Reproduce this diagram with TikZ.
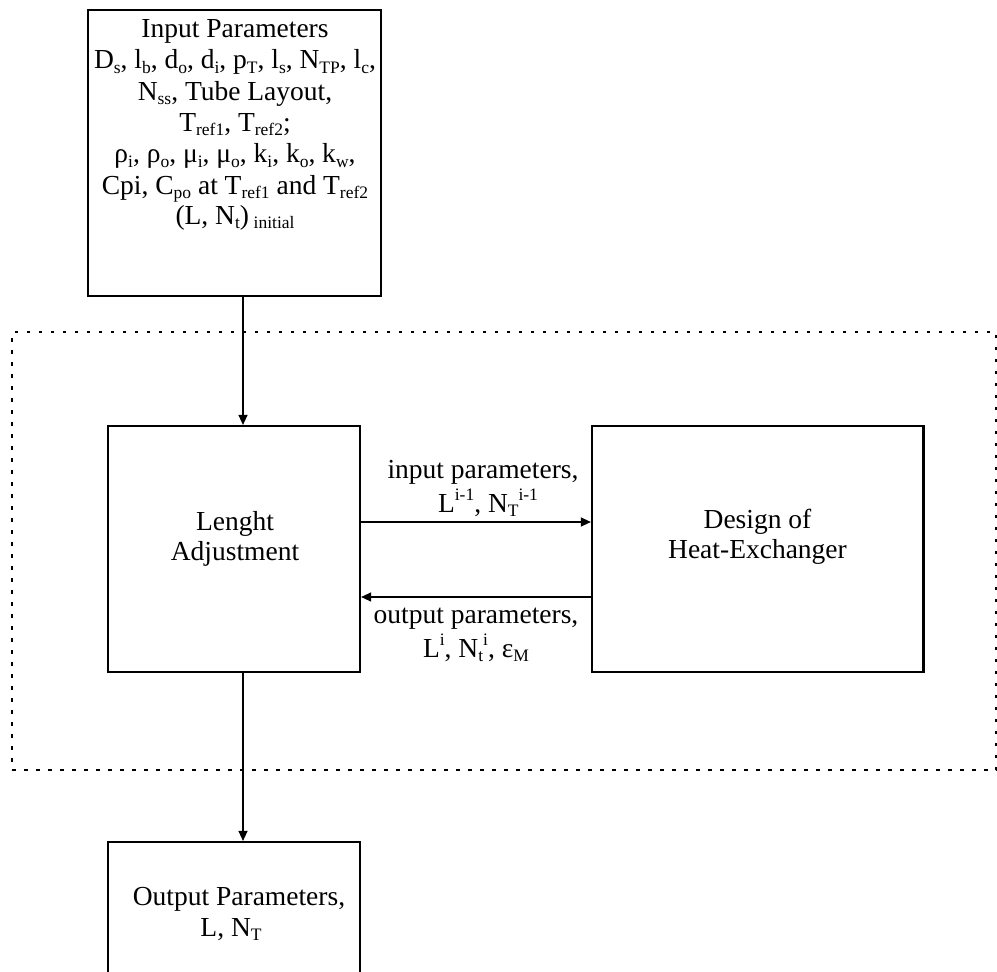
\documentclass[tikz,border=0pt]{standalone}
\usepackage{fontspec}
\setmainfont{Liberation Serif}
\usetikzlibrary{arrows.meta}
\newcommand\sbx[1]{\raisebox{-0.17em}{\fontsize{17.5pt}{18pt}\selectfont #1}}
\newcommand\spx[1]{\raisebox{0.42em}{\fontsize{17.5pt}{18pt}\selectfont #1}}
\begin{document}
\begin{tikzpicture}[x=1pt,y=-1pt,
  box/.style={draw, line width=2.2pt, inner sep=0pt},
  txt/.style={inner sep=0pt, anchor=base, font=\fontsize{27.5pt}{31.5pt}\selectfont},
  arr/.style={line width=1.3pt, -{Triangle[length=10pt,width=9pt]}},
  grpframe/.style={draw, line width=2pt, dash pattern=on 3.5pt off 8.5pt, inner sep=0pt}]
\useasboundingbox (0,0) rectangle (997,972);
\clip (0,0) rectangle (997,972);
% dotted group frame
\node[grpframe, minimum width=984pt, minimum height=438pt] (grp) at (504,551) {};
% boxes
\node[box, minimum width=293pt, minimum height=286pt] (inp) at (234.5,153) {};
\node[box, minimum width=252pt, minimum height=246pt] (len) at (234,549) {};
\node[box, minimum width=331.5pt, minimum height=246pt] (des) at (757.75,549) {};
\node[box, minimum width=252pt, minimum height=200pt] (out) at (234,942) {};
% input text
\node[txt] (i1) at (235,37) {Input Parameters};
\node[txt] (i2) at (235,68.5) {D\sbx{s}, l\sbx{b}, d\sbx{o}, d\sbx{i}, p\sbx{T}, l\sbx{s}, N\sbx{TP}, l\sbx{c},};
\node[txt] (i3) at (235,100) {N\sbx{ss}, Tube Layout,};
\node[txt] (i4) at (235,131) {T\sbx{ref1}, T\sbx{ref2};};
\node[txt] (i5) at (235,162.5) {ρ\sbx{i}, ρ\sbx{o}, μ\sbx{i}, μ\sbx{o}, k\sbx{i}, k\sbx{o}, k\sbx{w},};
\node[txt] (i6) at (235,194) {Cpi, C\sbx{po} at T\sbx{ref1} and T\sbx{ref2}};
\node[txt] (i7) at (235,224) {(L, N\sbx{t})\,\sbx{initial}};
% length text
\node[txt] (l1) at (235,530) {Lenght};
\node[txt] (l2) at (235,560) {Adjustment};
% design text
\node[txt] (d1) at (757.5,528) {Design of};
\node[txt] (d2) at (757.5,558) {Heat-Exchanger};
% output text
\node[txt] (o1) at (239,905) {Output Parameters,};
\node[txt] (o2) at (231,936) {L, N\sbx{T}};
% arrow labels
\node[txt] (a1) at (483,478) {input parameters,};
\node[txt] (a2) at (488,512) {L\spx{i-1}, N\sbx{T}\spx{i-1}};
\node[txt] (b1) at (476,623) {output parameters,};
\node[txt] (b2) at (476,657) {L\spx{i}, N\sbx{t}\spx{i}, ε\sbx{M}};
% connectors
\draw[arr] ([xshift=8.5pt]inp.south) -- ([xshift=9pt]len.north);
\draw[arr] ([yshift=27pt]len.east) -- ([yshift=27pt]des.west);
\draw[arr] ([yshift=-48pt]des.west) -- ([yshift=-48pt]len.east);
\draw[arr] ([xshift=9pt]len.south) -- ([xshift=9pt]out.north);
\end{tikzpicture}
\end{document}
